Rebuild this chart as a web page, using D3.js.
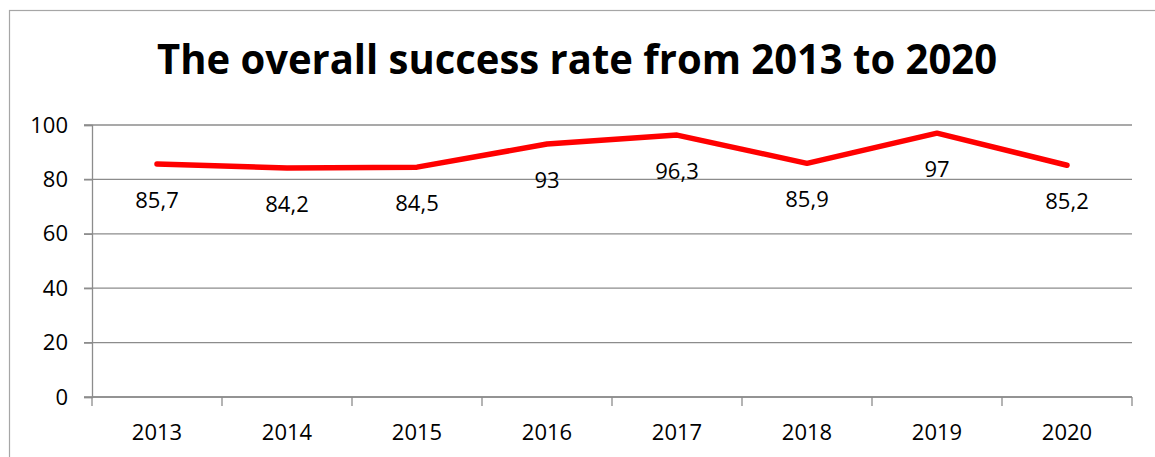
<!DOCTYPE html>
<html>
<head>
<meta charset="utf-8">
<script src="https://cdn.jsdelivr.net/npm/d3@7"></script>
<style>
body{margin:0;background:#fff;}
svg text{font-family:"Open Sans",sans-serif;fill:#000;}
</style>
</head>
<body>
<script>
var years = ["2013","2014","2015","2016","2017","2018","2019","2020"];
var rates = [85.7, 84.2, 84.5, 93, 96.3, 85.9, 97, 85.2];
var yTicks = [0, 20, 40, 60, 80, 100];
var title = "The overall success rate from 2013 to 2020";

var margin = {top:125, right:23, bottom:60, left:92};
var W = 1155, H = 457;
var width = W - margin.left - margin.right;
var height = H - margin.top - margin.bottom;

var svg = d3.select("body").append("svg")
    .attr("width", W)
    .attr("height", H);

// outer chart border (goes off the right and bottom edges)
svg.append("rect")
    .attr("x", 9.5).attr("y", 10.5)
    .attr("width", W + 20).attr("height", H + 20)
    .attr("fill", "none")
    .attr("stroke", "#a6a6a6")
    .attr("stroke-width", 1.2);

svg.append("text")
    .attr("x", 577).attr("y", 74)
    .attr("text-anchor", "middle")
    .attr("font-size", 42)
    .attr("font-weight", "bold")
    .attr("textLength", 840)
    .attr("lengthAdjust", "spacingAndGlyphs")
    .text(title);

var g = svg.append("g").attr("transform", "translate(" + margin.left + "," + margin.top + ")");

var x = d3.scaleBand().domain(years).range([0, width]);
var y = d3.scaleLinear().domain([0, 100]).range([height, 0]);

// gridlines
g.selectAll(".grid").data(yTicks).enter().append("line")
    .attr("class", "grid")
    .attr("x1", -8).attr("x2", width)
    .attr("y1", function(d){ return y(d); })
    .attr("y2", function(d){ return y(d); })
    .attr("stroke", "#8c8c8c")
    .attr("stroke-width", 1.3);

// y axis
var yAxis = g.append("g")
    .call(d3.axisLeft(y).tickValues(yTicks).tickSize(8).tickPadding(16));
yAxis.select(".domain").attr("stroke", "#8c8c8c").attr("stroke-width", 1.3);
yAxis.selectAll(".tick line").attr("stroke", "#8c8c8c").attr("stroke-width", 1.3);
yAxis.selectAll("text").attr("font-size", 22).attr("font-family", "Open Sans").attr("fill", "#000");

// x axis with ticks between categories
var xAxis = g.append("g").attr("transform", "translate(0," + height + ")");
xAxis.append("line")
    .attr("x1", 0).attr("x2", width)
    .attr("stroke", "#8c8c8c").attr("stroke-width", 1.3);
var bounds = d3.range(years.length + 1).map(function(i){ return i * x.step(); });
xAxis.selectAll(".xt").data(bounds).enter().append("line")
    .attr("class", "xt")
    .attr("x1", function(d){ return d; }).attr("x2", function(d){ return d; })
    .attr("y1", 0).attr("y2", 9)
    .attr("stroke", "#8c8c8c").attr("stroke-width", 1.3);
xAxis.selectAll(".xl").data(years).enter().append("text")
    .attr("class", "xl")
    .attr("x", function(d){ return x(d) + x.bandwidth()/2; })
    .attr("y", 43)
    .attr("text-anchor", "middle")
    .attr("font-size", 22)
    .text(function(d){ return d; });

// line
var line = d3.line()
    .x(function(d, i){ return x(years[i]) + x.bandwidth()/2; })
    .y(function(d){ return y(d); });

g.append("path")
    .datum(rates)
    .attr("d", line)
    .attr("fill", "none")
    .attr("stroke", "#ff0000")
    .attr("stroke-width", 5.5)
    .attr("stroke-linejoin", "round")
    .attr("stroke-linecap", "round");

// data labels below points
g.selectAll(".lbl").data(rates).enter().append("text")
    .attr("class", "lbl")
    .attr("x", function(d, i){ return x(years[i]) + x.bandwidth()/2; })
    .attr("y", function(d){ return y(d) + 44; })
    .attr("text-anchor", "middle")
    .attr("font-size", 22)
    .text(function(d){ return String(d).replace(".", ","); });
</script>
</body>
</html>
